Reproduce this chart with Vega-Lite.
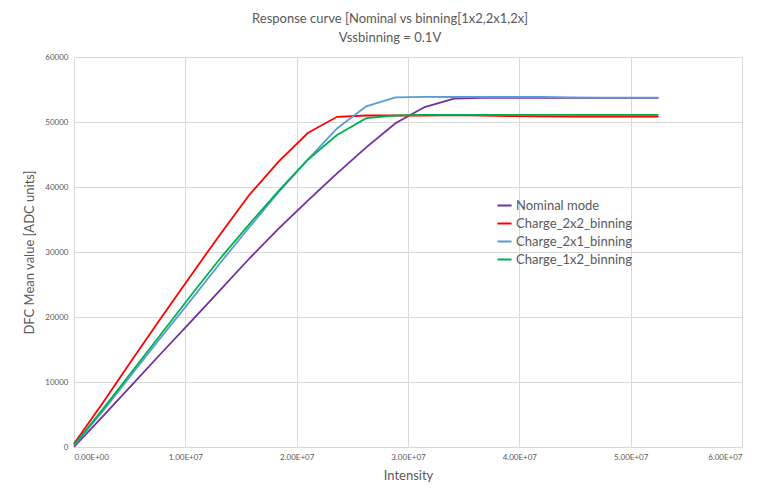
{
  "$schema": "https://vega.github.io/schema/vega-lite/v6.json",
  "width": 668,
  "height": 390,
  "autosize": {"type": "none"},
  "padding": {"left": 74, "top": 57, "right": 19, "bottom": 49},
  "background": "white",
  "config": {
    "font": "Lato",
    "view": {"stroke": null},
    "axis": {"labelColor": "#595959", "titleColor": "#595959", "labelFont": "Lato", "titleFont": "Lato", "gridColor": "#d9d9d9", "gridWidth": 1, "ticks": false, "titleFontWeight": "normal"}
  },
  "title": {
    "text": ["Response curve [Nominal vs binning[1x2,2x1,2x]", "Vssbinning = 0.1V"],
    "fontSize": 13,
    "fontWeight": "normal",
    "color": "#595959",
    "font": "Lato",
    "anchor": "middle",
    "offset": 8,
    "dx": -18,
    "lineHeight": 19
  },
  "data": {
    "values": [
      {"series": "Nominal mode", "x": 0, "y": 0},
      {"series": "Nominal mode", "x": 2625000, "y": 4800},
      {"series": "Nominal mode", "x": 5250000, "y": 9650},
      {"series": "Nominal mode", "x": 7875000, "y": 14500},
      {"series": "Nominal mode", "x": 10500000, "y": 19300},
      {"series": "Nominal mode", "x": 13125000, "y": 24150},
      {"series": "Nominal mode", "x": 15750000, "y": 29000},
      {"series": "Nominal mode", "x": 18375000, "y": 33600},
      {"series": "Nominal mode", "x": 21000000, "y": 37900},
      {"series": "Nominal mode", "x": 23625000, "y": 42100},
      {"series": "Nominal mode", "x": 26250000, "y": 46100},
      {"series": "Nominal mode", "x": 28875000, "y": 49800},
      {"series": "Nominal mode", "x": 31500000, "y": 52300},
      {"series": "Nominal mode", "x": 34125000, "y": 53600},
      {"series": "Nominal mode", "x": 36750000, "y": 53700},
      {"series": "Nominal mode", "x": 39375000, "y": 53700},
      {"series": "Nominal mode", "x": 42000000, "y": 53700},
      {"series": "Nominal mode", "x": 44625000, "y": 53700},
      {"series": "Nominal mode", "x": 47250000, "y": 53700},
      {"series": "Nominal mode", "x": 49875000, "y": 53700},
      {"series": "Nominal mode", "x": 52500000, "y": 53700},
      {"series": "Charge_2x2_binning", "x": 0, "y": 500},
      {"series": "Charge_2x2_binning", "x": 2625000, "y": 6900},
      {"series": "Charge_2x2_binning", "x": 5250000, "y": 13500},
      {"series": "Charge_2x2_binning", "x": 7875000, "y": 20000},
      {"series": "Charge_2x2_binning", "x": 10500000, "y": 26400},
      {"series": "Charge_2x2_binning", "x": 13125000, "y": 32700},
      {"series": "Charge_2x2_binning", "x": 15750000, "y": 38800},
      {"series": "Charge_2x2_binning", "x": 18375000, "y": 43900},
      {"series": "Charge_2x2_binning", "x": 21000000, "y": 48300},
      {"series": "Charge_2x2_binning", "x": 23625000, "y": 50800},
      {"series": "Charge_2x2_binning", "x": 26250000, "y": 51000},
      {"series": "Charge_2x2_binning", "x": 28875000, "y": 51000},
      {"series": "Charge_2x2_binning", "x": 31500000, "y": 51000},
      {"series": "Charge_2x2_binning", "x": 34125000, "y": 51050},
      {"series": "Charge_2x2_binning", "x": 36750000, "y": 51000},
      {"series": "Charge_2x2_binning", "x": 39375000, "y": 50900},
      {"series": "Charge_2x2_binning", "x": 42000000, "y": 50850},
      {"series": "Charge_2x2_binning", "x": 44625000, "y": 50850},
      {"series": "Charge_2x2_binning", "x": 47250000, "y": 50850},
      {"series": "Charge_2x2_binning", "x": 49875000, "y": 50850},
      {"series": "Charge_2x2_binning", "x": 52500000, "y": 50850},
      {"series": "Charge_2x1_binning", "x": 0, "y": 200},
      {"series": "Charge_2x1_binning", "x": 2625000, "y": 5600},
      {"series": "Charge_2x1_binning", "x": 5250000, "y": 11300},
      {"series": "Charge_2x1_binning", "x": 7875000, "y": 17000},
      {"series": "Charge_2x1_binning", "x": 10500000, "y": 22600},
      {"series": "Charge_2x1_binning", "x": 13125000, "y": 28300},
      {"series": "Charge_2x1_binning", "x": 15750000, "y": 33800},
      {"series": "Charge_2x1_binning", "x": 18375000, "y": 39200},
      {"series": "Charge_2x1_binning", "x": 21000000, "y": 44200},
      {"series": "Charge_2x1_binning", "x": 23625000, "y": 49000},
      {"series": "Charge_2x1_binning", "x": 26250000, "y": 52400},
      {"series": "Charge_2x1_binning", "x": 28875000, "y": 53800},
      {"series": "Charge_2x1_binning", "x": 31500000, "y": 53850},
      {"series": "Charge_2x1_binning", "x": 34125000, "y": 53850},
      {"series": "Charge_2x1_binning", "x": 36750000, "y": 53850},
      {"series": "Charge_2x1_binning", "x": 39375000, "y": 53850},
      {"series": "Charge_2x1_binning", "x": 42000000, "y": 53850},
      {"series": "Charge_2x1_binning", "x": 44625000, "y": 53800},
      {"series": "Charge_2x1_binning", "x": 47250000, "y": 53750},
      {"series": "Charge_2x1_binning", "x": 49875000, "y": 53750},
      {"series": "Charge_2x1_binning", "x": 52500000, "y": 53750},
      {"series": "Charge_1x2_binning", "x": 0, "y": 300},
      {"series": "Charge_1x2_binning", "x": 2625000, "y": 5900},
      {"series": "Charge_1x2_binning", "x": 5250000, "y": 11700},
      {"series": "Charge_1x2_binning", "x": 7875000, "y": 17500},
      {"series": "Charge_1x2_binning", "x": 10500000, "y": 23300},
      {"series": "Charge_1x2_binning", "x": 13125000, "y": 29000},
      {"series": "Charge_1x2_binning", "x": 15750000, "y": 34300},
      {"series": "Charge_1x2_binning", "x": 18375000, "y": 39400},
      {"series": "Charge_1x2_binning", "x": 21000000, "y": 44200},
      {"series": "Charge_1x2_binning", "x": 23625000, "y": 48000},
      {"series": "Charge_1x2_binning", "x": 26250000, "y": 50600},
      {"series": "Charge_1x2_binning", "x": 28875000, "y": 51000},
      {"series": "Charge_1x2_binning", "x": 31500000, "y": 51100},
      {"series": "Charge_1x2_binning", "x": 34125000, "y": 51100},
      {"series": "Charge_1x2_binning", "x": 36750000, "y": 51100},
      {"series": "Charge_1x2_binning", "x": 39375000, "y": 51100},
      {"series": "Charge_1x2_binning", "x": 42000000, "y": 51100},
      {"series": "Charge_1x2_binning", "x": 44625000, "y": 51100},
      {"series": "Charge_1x2_binning", "x": 47250000, "y": 51100},
      {"series": "Charge_1x2_binning", "x": 49875000, "y": 51100},
      {"series": "Charge_1x2_binning", "x": 52500000, "y": 51100}
    ]
  },
  "mark": {"type": "line", "strokeWidth": 1.8},
  "encoding": {
    "x": {
      "field": "x",
      "type": "quantitative",
      "scale": {"domain": [0, 60000000], "nice": false},
      "axis": {
        "values": [0, 10000000, 20000000, 30000000, 40000000, 50000000, 60000000],
        "labelExpr": "datum.value == 0 ? '0.00E+00' : format(datum.value / 10000000, '.2f') + 'E+07'",
        "title": "Intensity",
        "titleFontSize": 13,
        "labelFontSize": 8,
        "labelPadding": 6,
        "titlePadding": 8,
        "domain": true,
        "domainColor": "#d9d9d9",
        "grid": true
      }
    },
    "y": {
      "field": "y",
      "type": "quantitative",
      "scale": {"domain": [0, 60000], "nice": false},
      "axis": {
        "values": [0, 10000, 20000, 30000, 40000, 50000, 60000],
        "format": "d",
        "title": "DFC Mean value [ADC units]",
        "titleFontSize": 13,
        "labelFontSize": 8,
        "labelPadding": 6,
        "titlePadding": 8,
        "domain": false,
        "grid": true
      }
    },
    "color": {
      "field": "series",
      "type": "nominal",
      "scale": {
        "domain": ["Nominal mode", "Charge_2x2_binning", "Charge_2x1_binning", "Charge_1x2_binning"],
        "range": ["#7030A0", "#FF0000", "#5B9BD5", "#00B050"]
      },
      "legend": {
        "title": null,
        "orient": "none",
        "legendX": 422,
        "legendY": 140,
        "symbolType": "stroke",
        "symbolStrokeWidth": 2,
        "symbolSize": 200,
        "labelFontSize": 13,
        "labelColor": "#595959",
        "labelFont": "Lato",
        "rowPadding": 2,
        "labelOffset": 3
      }
    },
    "order": {"field": "series"}
  }
}
